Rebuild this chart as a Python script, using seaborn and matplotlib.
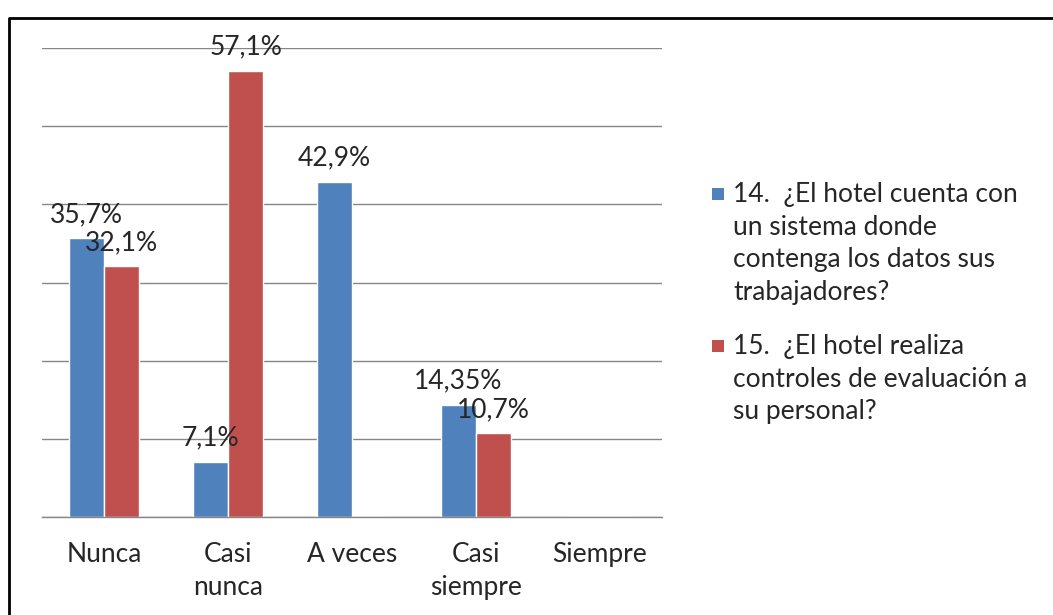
import pandas as pd
import matplotlib.pyplot as plt
from matplotlib.patches import Rectangle
from matplotlib.lines import Line2D
import seaborn as sns

sns.set_style('white')
plt.rcParams['font.family'] = ['Lato', 'DejaVu Sans']

#data
categorias = ['Nunca', 'Casi\nnunca', 'A veces', 'Casi\nsiempre', 'Siempre']
preg14 = [35.7, 7.1, 42.9, 14.35, 0]
preg15 = [32.1, 57.1, 0, 10.7, 0]
etiquetas14 = ['35,7%', '7,1%', '42,9%', '14,35%', '']
etiquetas15 = ['32,1%', '57,1%', '', '10,7%', '']
series = ['14.  ¿El hotel cuenta con\nun sistema donde\ncontenga los datos sus\ntrabajadores?',
          '15.  ¿El hotel realiza\ncontroles de evaluación a\nsu personal?']
colores = ['#4F81BD', '#C0504D']

df = pd.DataFrame({
    'categoria': categorias * 2,
    'valor': preg14 + preg15,
    'serie': [series[0]] * 5 + [series[1]] * 5,
})

fig = plt.figure(figsize=(10.53, 6.15), dpi=100)
ax = fig.add_axes([42/1053, 1 - 517/615, 620/1053, 469/615])

sns.barplot(data=df, x='categoria', y='valor', hue='serie', order=categorias,
            hue_order=series, palette=colores, saturation=1, width=0.565,
            errorbar=None, legend=False, ax=ax)

ax.set_ylim(0, 60)
ax.set_xlim(-0.5, 4.5)
ax.set_yticks([0, 10, 20, 30, 40, 50, 60])
ax.set_yticklabels([])
ax.tick_params(axis='y', length=0)
ax.yaxis.grid(True, color='#868686', linewidth=1)
ax.set_axisbelow(True)
for s in ['left', 'right', 'top']:
    ax.spines[s].set_visible(False)
ax.spines['bottom'].set_color('#868686')
ax.spines['bottom'].set_linewidth(1)

ax.set_xticks(range(5))
ax.set_xticklabels(categorias, fontsize=19, color='#262626', linespacing=1.38)
ax.tick_params(axis='x', length=0, pad=18)
ax.set_xticks([i - 0.5 for i in range(6)], minor=True)
ax.tick_params(axis='x', which='minor', length=7, color='#868686', width=1)
ax.set_xlabel('')
ax.set_ylabel('')

#value labels on top of bars
ax.bar_label(ax.containers[0], labels=etiquetas14, padding=8, fontsize=19, color='#262626')
ax.bar_label(ax.containers[1], labels=etiquetas15, padding=8, fontsize=19, color='#262626')

#legend drawn by hand so the square sits next to the first line
ytops = [182, 334]
for i in range(2):
    fig.add_artist(Rectangle((712/1053, 1 - (ytops[i] + 18)/615), 12/1053, 12/615,
                             transform=fig.transFigure, facecolor=colores[i], edgecolor='none'))
    fig.text(733/1053, 1 - ytops[i]/615, series[i], fontsize=19, color='#262626',
             va='top', ha='left', linespacing=1.38)

#outer frame
fig.add_artist(Line2D([9/1053, 9/1053, 1], [0, 1 - 18/615, 1 - 18/615],
                      transform=fig.transFigure, color='black', linewidth=2))

fig.savefig('out.png', dpi=100)
